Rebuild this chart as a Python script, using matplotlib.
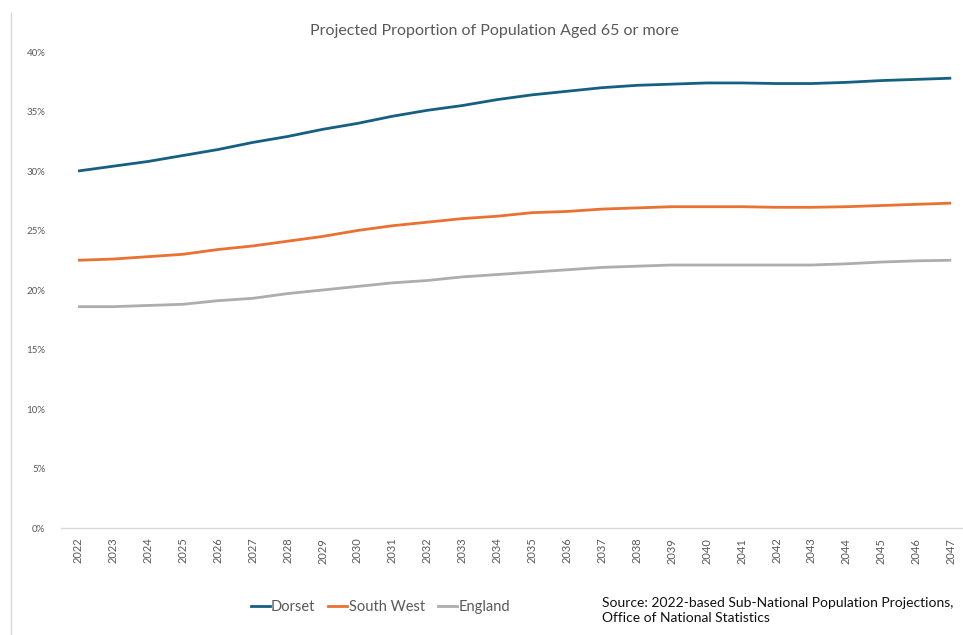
import matplotlib.pyplot as plt
from matplotlib.ticker import PercentFormatter
from matplotlib.lines import Line2D

years = list(range(2022, 2048))

dorset = [30.0, 30.4, 30.8, 31.3, 31.8, 32.4, 32.9, 33.5, 34.0, 34.6, 35.1, 35.5, 36.0,
          36.4, 36.7, 37.0, 37.2, 37.3, 37.4, 37.4, 37.35, 37.35, 37.45, 37.6, 37.7, 37.8]
south_west = [22.5, 22.6, 22.8, 23.0, 23.4, 23.7, 24.1, 24.5, 25.0, 25.4, 25.7, 26.0, 26.2,
              26.5, 26.6, 26.8, 26.9, 27.0, 27.0, 27.0, 26.95, 26.95, 27.0, 27.1, 27.2, 27.3]
england = [18.6, 18.6, 18.7, 18.8, 19.1, 19.3, 19.7, 20.0, 20.3, 20.6, 20.8, 21.1, 21.3,
           21.5, 21.7, 21.9, 22.0, 22.1, 22.1, 22.1, 22.1, 22.1, 22.2, 22.35, 22.45, 22.5]

series = ["Dorset", "South West", "England"]
colors = ["#156082", "#E97132", "#ADADAD"]

plt.rcParams["font.family"] = ["Lato", "DejaVu Sans"]

fig = plt.figure(figsize=(9.63, 6.35), dpi=100)
ax = fig.add_axes([0.0629, 0.1685, 0.943, 0.7496])

x = list(range(len(years)))
for vals, col, name in zip([dorset, south_west, england], colors, series):
    ax.plot(x, [v / 100 for v in vals], color=col, lw=2, label=name,
            solid_capstyle="butt", solid_joinstyle="round")

ax.set_xlim(-0.5, len(years) - 0.5)
ax.set_ylim(0, 0.40)
ax.set_yticks([i / 100 for i in range(0, 41, 5)])
ax.yaxis.set_major_formatter(PercentFormatter(1.0, decimals=0))
ax.set_xticks(x)
ax.set_xticklabels([str(y) for y in years], rotation=90)

ax.tick_params(axis="y", length=0, pad=11, labelsize=7, labelcolor="#595959")
ax.tick_params(axis="x", length=0, pad=7, labelsize=8, labelcolor="#595959")

for s in ["top", "right", "left"]:
    ax.spines[s].set_visible(False)
ax.spines["bottom"].set_color("#D9D9D9")
ax.spines["bottom"].set_linewidth(1)

fig.text(0.513, 0.951, "Projected Proportion of Population Aged 65 or more",
         ha="center", va="center", fontsize=11.5, color="#595959")

handles = [Line2D([], [], color=c, lw=2) for c in colors]
fig.legend(handles, series, loc="center", bbox_to_anchor=(0.395, 0.044),
           ncol=3, frameon=False, fontsize=10.5, labelcolor="#595959",
           handlelength=1.3, handletextpad=0.1, columnspacing=0.9)

fig.text(0.625, 0.038, "Source: 2022-based Sub-National Population Projections,\n"
         "Office of National Statistics", ha="left", va="center",
         fontsize=10, color="#111111", linespacing=1.3)

# thin frame line down the left edge
fig.add_artist(Line2D([0.0115, 0.0115], [0, 0.98], color="#D9D9D9", lw=1,
                      transform=fig.transFigure))

fig.savefig("out.png", dpi=100)
